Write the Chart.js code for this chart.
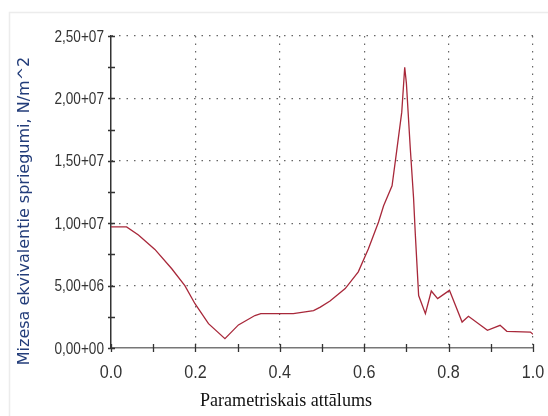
<!DOCTYPE html>
<html>
<head>
<meta charset="utf-8">
<script src="https://cdn.jsdelivr.net/npm/chart.js@4/dist/chart.umd.min.js"></script>
<style>
html,body{margin:0;padding:0;background:#fff;}
#wrap{width:548px;height:416px;position:relative;}
</style>
</head>
<body>
<div id="wrap"><canvas id="c" width="548" height="416"></canvas></div>
<script>
// Parametric distance along path
const distance = [0, 0.037, 0.065, 0.104, 0.144, 0.175, 0.199, 0.231, 0.270, 0.302, 0.341, 0.355, 0.432, 0.480, 0.496, 0.519, 0.555, 0.586, 0.610, 0.634, 0.646, 0.666, 0.677, 0.689, 0.696, 0.700, 0.709, 0.717, 0.721, 0.729, 0.745, 0.759, 0.774, 0.802, 0.832, 0.847, 0.892, 0.922, 0.938, 0.994, 1.0];
// von Mises equivalent stress, N/m^2
const stress = [9.7e6, 9.7e6, 9.05e6, 7.9e6, 6.35e6, 5.0e6, 3.55e6, 1.95e6, 0.75e6, 1.85e6, 2.6e6, 2.75e6, 2.75e6, 3.0e6, 3.28e6, 3.76e6, 4.76e6, 6.1e6, 7.95e6, 10.1e6, 11.4e6, 13.0e6, 15.8e6, 18.9e6, 22.5e6, 21.2e6, 16.1e6, 12.0e6, 9.2e6, 4.2e6, 2.75e6, 4.57e6, 3.96e6, 4.62e6, 2.08e6, 2.54e6, 1.42e6, 1.82e6, 1.34e6, 1.28e6, 1.1e6];
// Tick labels
const xTickValues = [0, 0.2, 0.4, 0.6, 0.8, 1.0];
const xTickLabels = ['0.0', '0.2', '0.4', '0.6', '0.8', '1.0'];
const yTickValues = [0, 5e6, 1e7, 1.5e7, 2e7, 2.5e7];
const yTickLabels = ['0,00+00', '5,00+06', '1,00+07', '1,50+07', '2,00+07', '2,50+07'];
const xTitle = 'Parametriskais attālums';
const yTitle = 'Mizesa ekvivalentie spriegumi, N/m^2';

const points = distance.map((d, i) => ({x: d, y: stress[i]}));

function isMajor(values, v) {
  return values.some(m => Math.abs(m - v) < 1e-9 * Math.max(1, Math.abs(v)));
}

const textPlugin = {
  id: 'textPlugin',
  beforeDraw(chart) {
    const ctx = chart.ctx;
    ctx.save();
    ctx.fillStyle = '#fff';
    ctx.fillRect(0, 0, chart.width, chart.height);
    ctx.strokeStyle = '#ececec';
    ctx.lineWidth = 1.5;
    ctx.beginPath();
    ctx.moveTo(9.5, chart.height);
    ctx.lineTo(9.5, 12.5);
    ctx.lineTo(chart.width, 12.5);
    ctx.stroke();
    ctx.restore();
  },
  afterDraw(chart) {
    const ctx = chart.ctx;
    const xs = chart.scales.x, ys = chart.scales.y;
    const a = chart.chartArea;
    // tick marks crossing the axes
    ctx.save();
    ctx.strokeStyle = '#333';
    ctx.lineWidth = 1.3;
    ctx.beginPath();
    xs.ticks.forEach(t => {
      const px = Math.round(xs.getPixelForValue(t.value)) + 0.5;
      ctx.moveTo(px, a.bottom - 4);
      ctx.lineTo(px, a.bottom + 4);
    });
    ys.ticks.forEach(t => {
      const py = Math.round(ys.getPixelForValue(t.value)) + 0.5;
      ctx.moveTo(a.left - 3, py);
      ctx.lineTo(a.left + 4, py);
    });
    ctx.stroke();
    ctx.restore();

    // condensed tick labels
    ctx.save();
    ctx.fillStyle = '#333';
    ctx.font = "17px 'Liberation Sans', Arial, sans-serif";
    ctx.textAlign = 'right';
    ctx.textBaseline = 'middle';
    yTickValues.forEach((v, i) => {
      const py = ys.getPixelForValue(v);
      ctx.save();
      ctx.translate(a.left - 7, py + 1);
      ctx.scale(0.8, 1);
      ctx.fillText(yTickLabels[i], 0, 0);
      ctx.restore();
    });
    ctx.font = "19px 'Liberation Sans', Arial, sans-serif";
    ctx.textAlign = 'center';
    xTickValues.forEach((v, i) => {
      const px = xs.getPixelForValue(v);
      ctx.save();
      ctx.translate(px, a.bottom + 25);
      ctx.scale(0.85, 1);
      ctx.fillText(xTickLabels[i], 0, 0);
      ctx.restore();
    });
    // axis titles
    ctx.fillStyle = '#111';
    ctx.font = "19px 'Liberation Serif', 'Times New Roman', serif";
    ctx.save();
    ctx.translate(286, 401);
    ctx.scale(0.95, 1);
    ctx.fillText(xTitle, 0, 0);
    ctx.restore();
    ctx.fillStyle = '#233d7a';
    ctx.font = "16px 'DejaVu Sans', sans-serif";
    ctx.save();
    ctx.translate(25, 211);
    ctx.rotate(-Math.PI / 2);
    ctx.fillText(yTitle, 0, 0);
    ctx.restore();
    ctx.restore();
  }
};

new Chart(document.getElementById('c'), {
  type: 'line',
  data: {
    datasets: [{
      data: points,
      borderColor: '#a8283a',
      borderWidth: 1.3,
      pointRadius: 0,
      fill: false,
      tension: 0
    }]
  },
  options: {
    responsive: false,
    animation: false,
    events: [],
    layout: {padding: {left: 0, right: 15, top: 36, bottom: 0}},
    plugins: {legend: {display: false}, tooltip: {enabled: false}},
    scales: {
      x: {
        type: 'linear',
        min: 0, max: 1,
        afterFit(s) { s.height = 68; },
        border: {display: true, color: '#777', width: 1.5, dash: [1.5, 6]},
        grid: {
          drawTicks: false,
          color: ctx => (ctx.tick && isMajor(xTickValues, ctx.tick.value) && ctx.tick.value > 0) ? '#666' : 'rgba(0,0,0,0)',
          lineWidth: 1.2
        },
        ticks: {stepSize: 0.1, autoSkip: false, display: false}
      },
      y: {
        type: 'linear',
        min: 0, max: 2.5e7,
        afterFit(s) { s.width = 111; },
        border: {display: true, color: '#333', width: 1.5, dash: [1.5, 6]},
        grid: {
          drawTicks: false,
          color: ctx => (ctx.tick && isMajor(yTickValues, ctx.tick.value) && ctx.tick.value > 0) ? '#666' : 'rgba(0,0,0,0)',
          lineWidth: 1.2
        },
        ticks: {stepSize: 2.5e6, autoSkip: false, display: false}
      }
    }
  },
  plugins: [textPlugin]
});
</script>
</body>
</html>
